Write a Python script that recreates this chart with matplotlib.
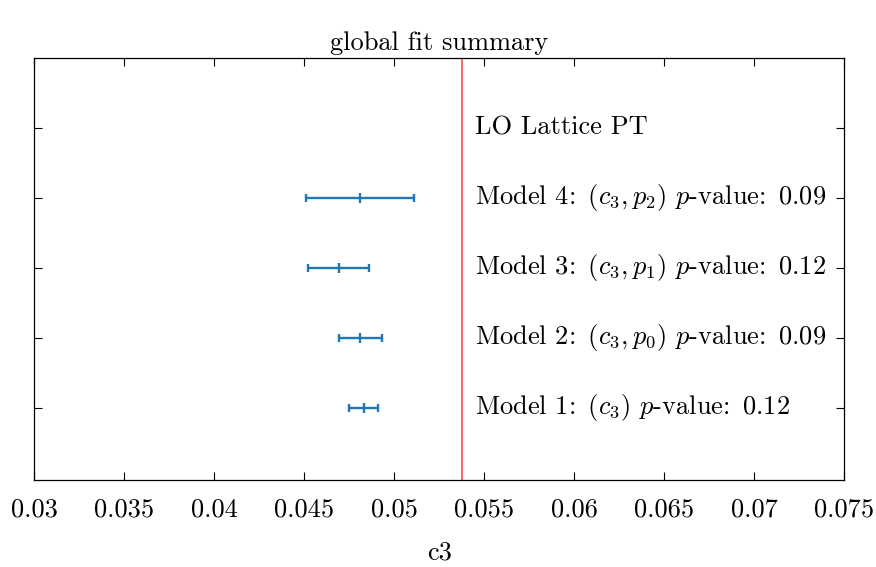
import matplotlib
matplotlib.use('Agg')
import matplotlib.pyplot as plt
from matplotlib.ticker import FuncFormatter

plt.rcParams['font.family'] = 'serif'
plt.rcParams['font.serif'] = ['cmr10']
plt.rcParams['mathtext.fontset'] = 'cm'
plt.rcParams['axes.formatter.use_mathtext'] = True

# fit results
model_labels = [r'Model 1:$\,$ $(c_3)$ $p$-value:$\,$ 0.12',
                r'Model 2:$\,$ $(c_3, p_0)$ $p$-value:$\,$ 0.09',
                r'Model 3:$\,$ $(c_3, p_1)$ $p$-value:$\,$ 0.12',
                r'Model 4:$\,$ $(c_3, p_2)$ $p$-value:$\,$ 0.09']
c3_mean = [0.0483, 0.04811, 0.0469, 0.04811]
c3_err = [0.00082, 0.00121, 0.00170, 0.00301]
lo_label = 'LO Lattice PT'
lo_value = 0.05378

fs = 19
fig = plt.figure(figsize=(8.76, 5.67), dpi=100)
ax = fig.add_axes([0.0392, 0.1534, 0.9246, 0.7443])

ypos = list(range(len(model_labels)))
ax.errorbar(c3_mean, ypos, xerr=c3_err, fmt='|', color='#1f77b4',
            elinewidth=1.7, capsize=3.2, capthick=1.7, markersize=6.5, mew=1.7)
ax.axvline(lo_value, color='#ff5a5a', lw=1.3)

text_x = 0.0545
for y, lab in zip(ypos, model_labels):
    ax.text(text_x, y, lab, va='center', ha='left', fontsize=fs)
ax.text(text_x, len(model_labels), lo_label, va='center', ha='left', fontsize=fs)

ax.set_xlim(0.03, 0.075)
ax.set_ylim(-1.03, 5.0)
ax.set_xticks([0.03, 0.035, 0.04, 0.045, 0.05, 0.055, 0.06, 0.065, 0.07, 0.075])
ax.xaxis.set_major_formatter(FuncFormatter(lambda v, p: '{:g}'.format(round(v, 4))))
ax.set_yticks(range(len(model_labels) + 1))
ax.set_yticklabels([])
ax.tick_params(direction='in', top=True, right=True, length=6, width=0.8,
               labelsize=fs, pad=12.5)
for s in ax.spines.values():
    s.set_linewidth(0.9)

ax.set_xlabel('c3', fontsize=fs, labelpad=14)
ax.set_title('global fit summary', fontsize=fs, pad=5.5)

fig.savefig('out.png', dpi=100)
